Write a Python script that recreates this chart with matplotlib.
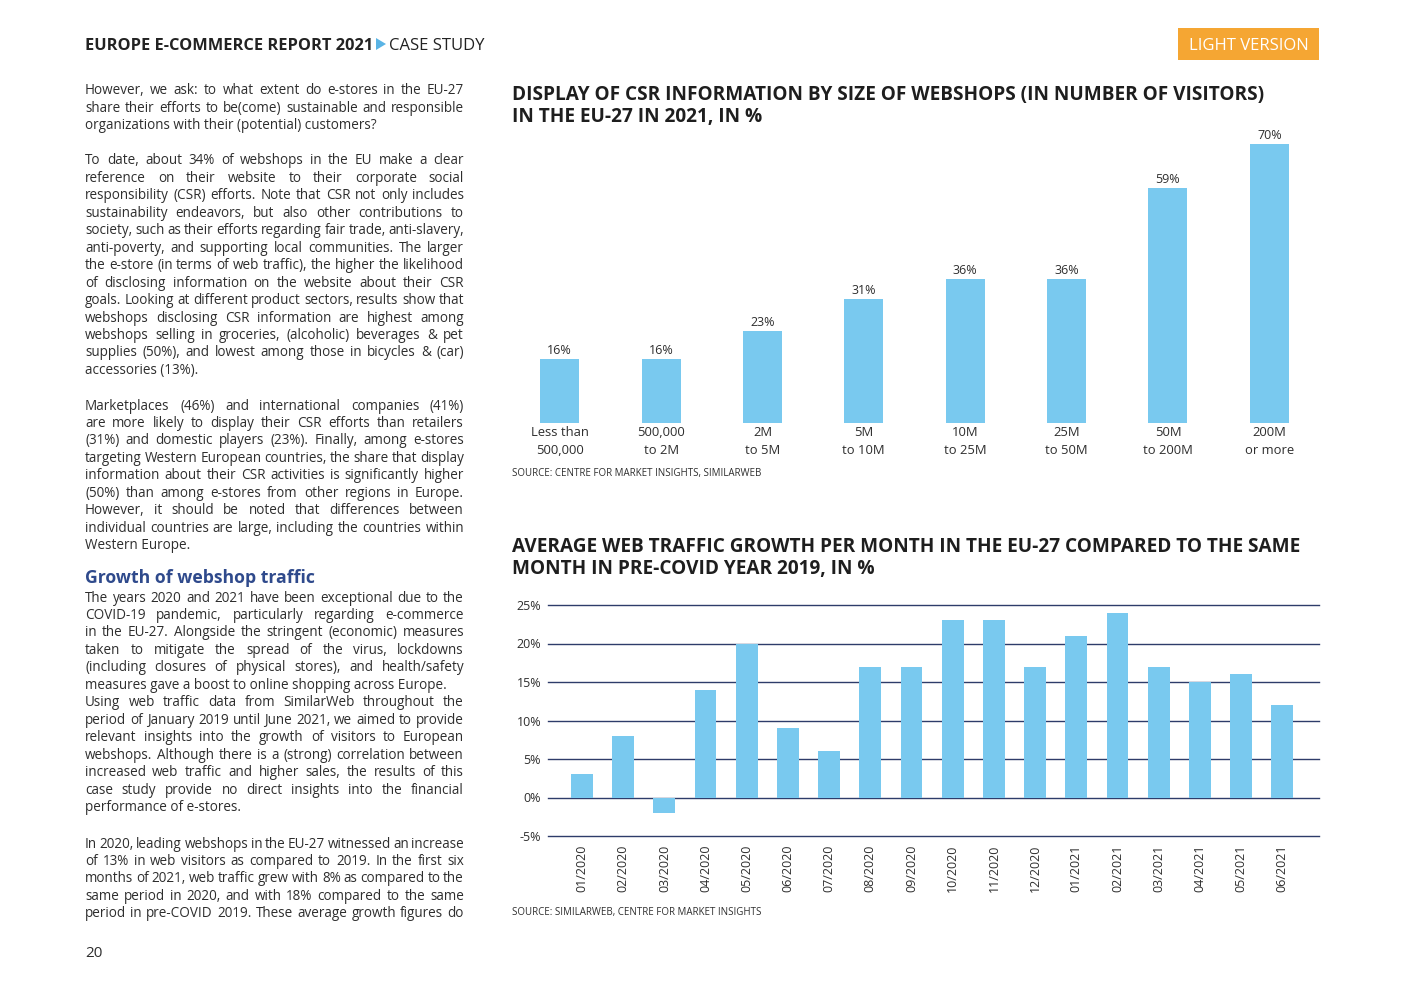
import matplotlib
matplotlib.use("Agg")
import matplotlib.pyplot as plt
from matplotlib.patches import Rectangle, Polygon

plt.rcParams['font.family'] = ['Open Sans', 'DejaVu Sans']

W, H = 1403, 992
fig = plt.figure(figsize=(W / 100, H / 100), dpi=100)
fig.patch.set_facecolor('white')

def fx(x):
    return x / W

def fy(y):
    return 1 - y / H

TXT = '#2e2e2e'
BAR = '#79c9ef'
GRID = '#2e3c6a'
NAVY = '#2f4a8c'

# ---------------- data ----------------
size_labels = ["Less than\n500,000", "500,000\nto 2M", "2M\nto 5M", "5M\nto 10M",
               "10M\nto 25M", "25M\nto 50M", "50M\nto 200M", "200M\nor more"]
csr_share = [16, 16, 23, 31, 36, 36, 59, 70]

months = ["01/2020", "02/2020", "03/2020", "04/2020", "05/2020", "06/2020",
          "07/2020", "08/2020", "09/2020", "10/2020", "11/2020", "12/2020",
          "01/2021", "02/2021", "03/2021", "04/2021", "05/2021", "06/2021"]
growth = [3, 8, -2, 14, 20, 9, 6, 17, 17, 23, 23, 17, 21, 24, 17, 15, 16, 12]
growth_ticks = [-5, 0, 5, 10, 15, 20, 25]

# ---------------- header ----------------
fig.text(fx(85), fy(49.5), "EUROPE E-COMMERCE REPORT 2021", fontsize=11.8,
         fontweight='bold', color='#222222', va='baseline', ha='left')
fig.patches.append(Polygon([[fx(376), fy(38)], [fx(386), fy(44)], [fx(376), fy(50)]],
                           closed=True, transform=fig.transFigure, facecolor='#5ab4e5',
                           edgecolor='none'))
fig.text(fx(389), fy(49.5), "CASE STUDY", fontsize=12, color='#222222',
         va='baseline', ha='left')
fig.patches.append(Rectangle((fx(1178), fy(60)), fx(1319) - fx(1178), fy(28) - fy(60),
                             transform=fig.transFigure, facecolor='#f5a633',
                             edgecolor='none'))
fig.text(fx(1248.5), fy(49.5), "LIGHT VERSION", fontsize=12, color='white',
         va='baseline', ha='center')

# ---------------- body text ----------------
renderer = fig.canvas.get_renderer()
X0, X1 = 85, 464
LS = 17.45
BODY = dict(fontsize=9.75, color=TXT, va='baseline', ha='left')

def draw_par(lines, y0, justify_last=False):
    for i, line in enumerate(lines):
        y = fy(round(y0 + i * LS + 4.5))
        last = (i == len(lines) - 1) and not justify_last
        words = line.split(' ')
        if last or len(words) == 1:
            fig.text(fx(X0), y, line, **BODY)
            continue
        ts = [fig.text(0, y, w, **BODY) for w in words]
        widths = [t.get_window_extent(renderer).width for t in ts]
        gap = (X1 - X0 - sum(widths)) / (len(words) - 1)
        x = X0
        for t, w in zip(ts, widths):
            t.set_x(fx(x))
            x += w + gap

p1 = ["However, we ask: to what extent do e-stores in the EU-27",
      "share their efforts to be(come) sustainable and responsible",
      "organizations with their (potential) customers?"]
p2 = ["To date, about 34% of webshops in the EU make a clear",
      "reference on their website to their corporate social",
      "responsibility (CSR) efforts. Note that CSR not only includes",
      "sustainability endeavors, but also other contributions to",
      "society, such as their efforts regarding fair trade, anti-slavery,",
      "anti-poverty, and supporting local communities. The larger",
      "the e-store (in terms of web traffic), the higher the likelihood",
      "of disclosing information on the website about their CSR",
      "goals. Looking at different product sectors, results show that",
      "webshops disclosing CSR information are highest among",
      "webshops selling in groceries, (alcoholic) beverages & pet",
      "supplies (50%), and lowest among those in bicycles & (car)",
      "accessories (13%)."]
p3 = ["Marketplaces (46%) and international companies (41%)",
      "are more likely to display their CSR efforts than retailers",
      "(31%) and domestic players (23%). Finally, among e-stores",
      "targeting Western European countries, the share that display",
      "information about their CSR activities is significantly higher",
      "(50%) than among e-stores from other regions in Europe.",
      "However, it should be noted that differences between",
      "individual countries are large, including the countries within",
      "Western Europe."]
p4 = ["The years 2020 and 2021 have been exceptional due to the",
      "COVID-19 pandemic, particularly regarding e-commerce",
      "in the EU-27. Alongside the stringent (economic) measures",
      "taken to mitigate the spread of the virus, lockdowns",
      "(including closures of physical stores), and health/safety",
      "measures gave a boost to online shopping across Europe."]
p5 = ["Using web traffic data from SimilarWeb throughout the",
      "period of January 2019 until June 2021, we aimed to provide",
      "relevant insights into the growth of visitors to European",
      "webshops. Although there is a (strong) correlation between",
      "increased web traffic and higher sales, the results of this",
      "case study provide no direct insights into the financial",
      "performance of e-stores."]
p6 = ["In 2020, leading webshops in the EU-27 witnessed an increase",
      "of 13% in web visitors as compared to 2019. In the first six",
      "months of 2021, web traffic grew with 8% as compared to the",
      "same period in 2020, and with 18% compared to the same",
      "period in pre-COVID 2019. These average growth figures do"]

draw_par(p1, 90)
draw_par(p2, 160)
draw_par(p3, 405)
fig.text(fx(85), fy(583), "Growth of webshop traffic", fontsize=12.7,
         fontweight='bold', color=NAVY, va='baseline', ha='left')
draw_par(p4, 597)
draw_par(p5, 702)
draw_par(p6, 843, justify_last=True)

fig.text(fx(85), fy(957), "20", fontsize=11, color=TXT, va='baseline', ha='left')

# ---------------- chart 1 ----------------
TITLE = dict(fontsize=13.7, fontweight='bold', color='#1e1e1e', va='baseline', ha='left')
fig.text(fx(512), fy(100), "DISPLAY OF CSR INFORMATION BY SIZE OF WEBSHOPS (IN NUMBER OF VISITORS)", **TITLE)
fig.text(fx(512), fy(122), "IN THE EU-27 IN 2021, IN %", **TITLE)

ax1 = fig.add_axes([fx(509), fy(423), fx(1320) - fx(509), fy(130) - fy(423)])
ax1.bar(range(len(csr_share)), csr_share, width=0.385, color=BAR)
ax1.set_xlim(-0.5, len(csr_share) - 0.5)
ax1.set_ylim(0, 293 / 3.99)
for i, v in enumerate(csr_share):
    ax1.annotate(f"{v}%", (i, v), xytext=(0, 1.5), textcoords='offset points',
                 ha='center', va='bottom', fontsize=9, color=TXT)
ax1.set_xticks(range(len(csr_share)))
ax1.set_xticklabels(size_labels, fontsize=9.4, color=TXT, linespacing=1.45)
ax1.tick_params(axis='x', length=0, pad=2.5)
ax1.set_yticks([])
for s in ax1.spines.values():
    s.set_visible(False)
ax1.patch.set_alpha(0)

fig.text(fx(512), fy(476), "SOURCE: CENTRE FOR MARKET INSIGHTS, SIMILARWEB", fontsize=7.0,
         color=TXT, va='baseline', ha='left')

# ---------------- chart 2 ----------------
fig.text(fx(512), fy(552), "AVERAGE WEB TRAFFIC GROWTH PER MONTH IN THE EU-27 COMPARED TO THE SAME", **TITLE)
fig.text(fx(512), fy(574), "MONTH IN PRE-COVID YEAR 2019, IN %", **TITLE)

ax2 = fig.add_axes([fx(548), fy(836), fx(1319) - fx(548), fy(605) - fy(836)])
x2 = list(range(len(growth)))
ax2.bar(x2, growth, width=0.53, color=BAR, zorder=3)
ax2.set_xlim(-0.825, 17.89)
ax2.set_ylim(-5, 25)
ax2.set_yticks(growth_ticks)
ax2.set_yticklabels([f"{t}%" for t in growth_ticks], fontsize=9, color=TXT)
ax2.yaxis.grid(True, color=GRID, linewidth=1.0, zorder=1)
ax2.set_axisbelow(True)
for gl in ax2.get_ygridlines():
    gl.set_clip_on(False)
ax2.set_xticks(x2)
ax2.set_xticklabels(months, rotation=90, fontsize=9, color=TXT)
ax2.tick_params(axis='x', length=0, pad=6)
ax2.tick_params(axis='y', length=0, pad=5)
for s in ax2.spines.values():
    s.set_visible(False)
ax2.patch.set_alpha(0)

fig.text(fx(512), fy(915), "SOURCE: SIMILARWEB, CENTRE FOR MARKET INSIGHTS", fontsize=7.0,
         color=TXT, va='baseline', ha='left')

fig.savefig("out.png", dpi=100)
